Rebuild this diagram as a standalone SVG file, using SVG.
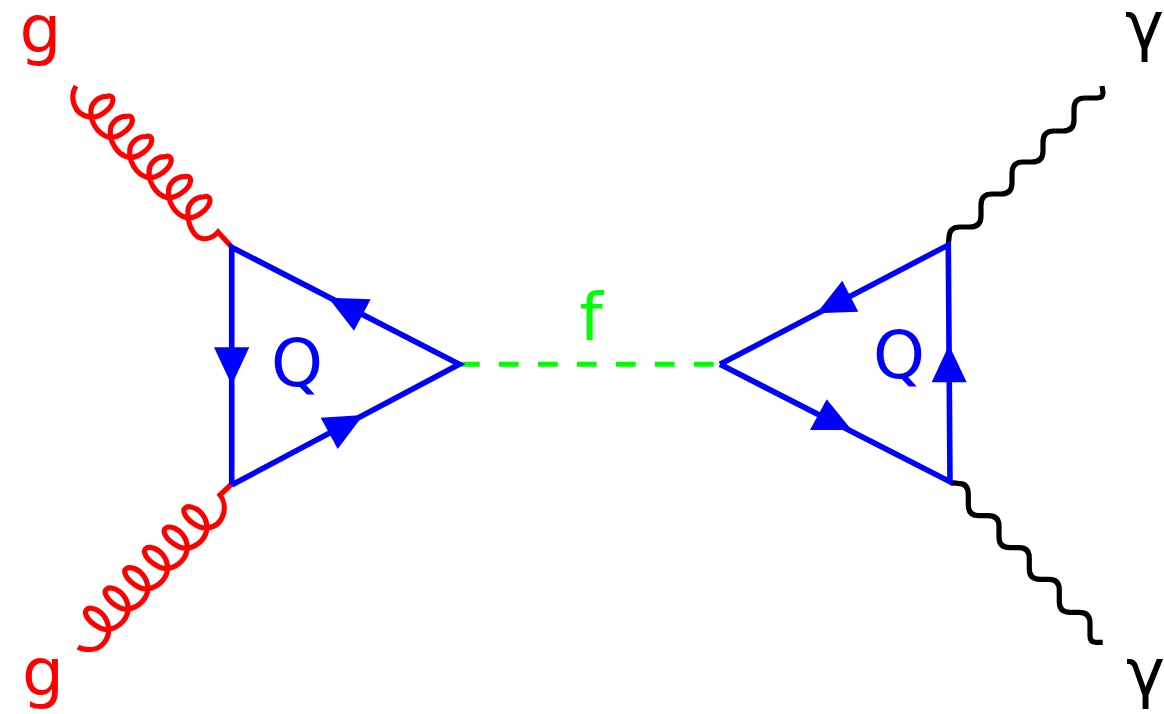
<svg xmlns="http://www.w3.org/2000/svg" width="1164" height="714" viewBox="0 0 1164 714">
<style>
text{font-family:"DejaVu Sans",sans-serif;font-size:66px}
.gluon{fill:none;stroke:#f00;stroke-width:5.2}
.photon{fill:none;stroke:#000;stroke-width:5.2}
.quark{fill:none;stroke:#00f;stroke-width:5.6}
.head{fill:#00f;stroke:none}
.scalar{fill:none;stroke:#0f0;stroke-width:5;stroke-dasharray:19.7 19.3}
</style>
<rect width="1164" height="714" fill="#fff"/>
<g id="connectors">
<path class="gluon" d="M76,86 C70,96 72,114 90,117.3 c8,1 22,-8 23,-17 c0,-4 -3,-5 -6,-4 c-10,0 -16,8 -16,14 c-1,9 5,24 18.4,27.1 c8,1 22,-8 23,-17 c0,-4 -3,-5 -6,-4 c-10,0 -16,8 -16,14 c-1,9 5,24 18.4,27.1 c8,1 22,-8 23,-17 c0,-4 -3,-5 -6,-4 c-10,0 -16,8 -16,14 c-1,9 5,24 18.4,27.1 c8,1 22,-8 23,-17 c0,-4 -3,-5 -6,-4 c-10,0 -16,8 -16,14 c-1,9 5,24 18.4,27.1 c8,1 22,-8 23,-17 c0,-4 -3,-5 -6,-4 c-10,0 -16,8 -16,14 c-1,9 5,24 18.4,27.1 c8,1 22,-8 23,-17 c0,-4 -3,-5 -6,-4 c-10,0 -16,8 -16,14 C187,224 194,238 203,238.7 C209,239 214,237 218,232 L231.7,247"/>
<path class="gluon" d="M231.7,484 L220,495 C228,505 225,526 207,528 c-8,1 -21,-8 -23,-16 c-1,-4 3,-6 7,-5 c9,2 15,10 16,19 c0.3,11 -8,20 -19.7,22.3 c-8,1 -21,-8 -23,-16 c-1,-4 3,-6 7,-5 c9,2 15,10 16,19 c0.3,11 -8,20 -19.7,22.3 c-8,1 -21,-8 -23,-16 c-1,-4 3,-6 7,-5 c9,2 15,10 16,19 c0.3,11 -8,20 -19.7,22.3 c-8,1 -21,-8 -23,-16 c-1,-4 3,-6 7,-5 c9,2 15,10 16,19 c0.3,11 -8,20 -19.7,22.3 c-8,1 -21,-8 -23,-16 c-1,-4 3,-6 7,-5 c9,2 15,10 16,19 c0.3,11 -8,20 -19.7,22.3 c-8,1 -21,-8 -23,-16 c-1,-4 3,-6 7,-5 c9,2 15,10 16,19 C110,640 100,650 90,649.5 C85,649.5 81,649 78,647"/>
<path class="photon" d="M948.3,244 L949,238 Q949,227 960,227 L970,227 Q981,227 981,216 L981,205 Q981,194 992,194 L1001,194 Q1012,194 1012,183 L1012,173 Q1012,162 1023,162 L1032,162 Q1043,162 1043,151 L1043,142 Q1043,131 1054,131 L1063,131 Q1074,131 1074,120 L1074,109 Q1074,98 1085,98 L1097,98 Q1103,98 1103,93 L1102,86"/>
<path class="photon" d="M950.7,482.7 L958,483.3 Q968.3,483.3 968.3,494 L968.3,505 Q968.3,515.7 979,515.7 L988,515.7 Q999,515.7 999,526 L999,537 Q999,547.7 1010,547.7 L1019,547.7 Q1029.3,547.7 1029.3,558 L1029.3,569 Q1029.3,579.3 1040,579.3 L1049,579.3 Q1059.3,579.3 1059.3,590 L1059.3,602 Q1059.3,612.3 1070,612.3 L1079,612.3 Q1090,612.3 1090,623 L1090,636 Q1090,642.3 1096,642.3 L1102.7,642.3"/>
<path class="scalar" d="M460,364.3 H714"/>
<path class="quark" d="M231.7,485 V247.3 L459.3,364.3 L231.7,485"/>
<path class="quark" d="M720,364.3 L948.3,245 L950,481.7 L720,364.3"/>
<polygon class="head" points="214,347.3 249.3,347.3 231.7,385"/>
<polygon class="head" points="328.3,297.7 370.7,299.3 354,330.7"/>
<polygon class="head" points="320.7,417.7 363.3,415 337.7,449"/>
<polygon class="head" points="842.3,280.7 858.3,311.7 816.7,313.3"/>
<polygon class="head" points="826.7,399.3 851.7,430 810,430"/>
<polygon class="head" points="949,345 966.7,382.3 931.7,382.3"/>
</g>
<g id="label-g-top"><text x="19.6" y="52" fill="#f00">g</text></g>
<g id="label-g-bottom"><text x="22" y="695" fill="#f00">g</text></g>
<g id="label-gamma-top"><text x="1125" y="48" fill="#000">γ</text></g>
<g id="label-gamma-bottom"><text x="1126" y="695" fill="#000">γ</text></g>
<g id="label-f"><text x="579.5" y="340" fill="#0f0">f</text></g>
<g id="label-q-left"><text x="271" y="386" fill="#00f">Q</text></g>
<g id="label-q-right"><text x="873" y="378" fill="#00f">Q</text></g>
</svg>
